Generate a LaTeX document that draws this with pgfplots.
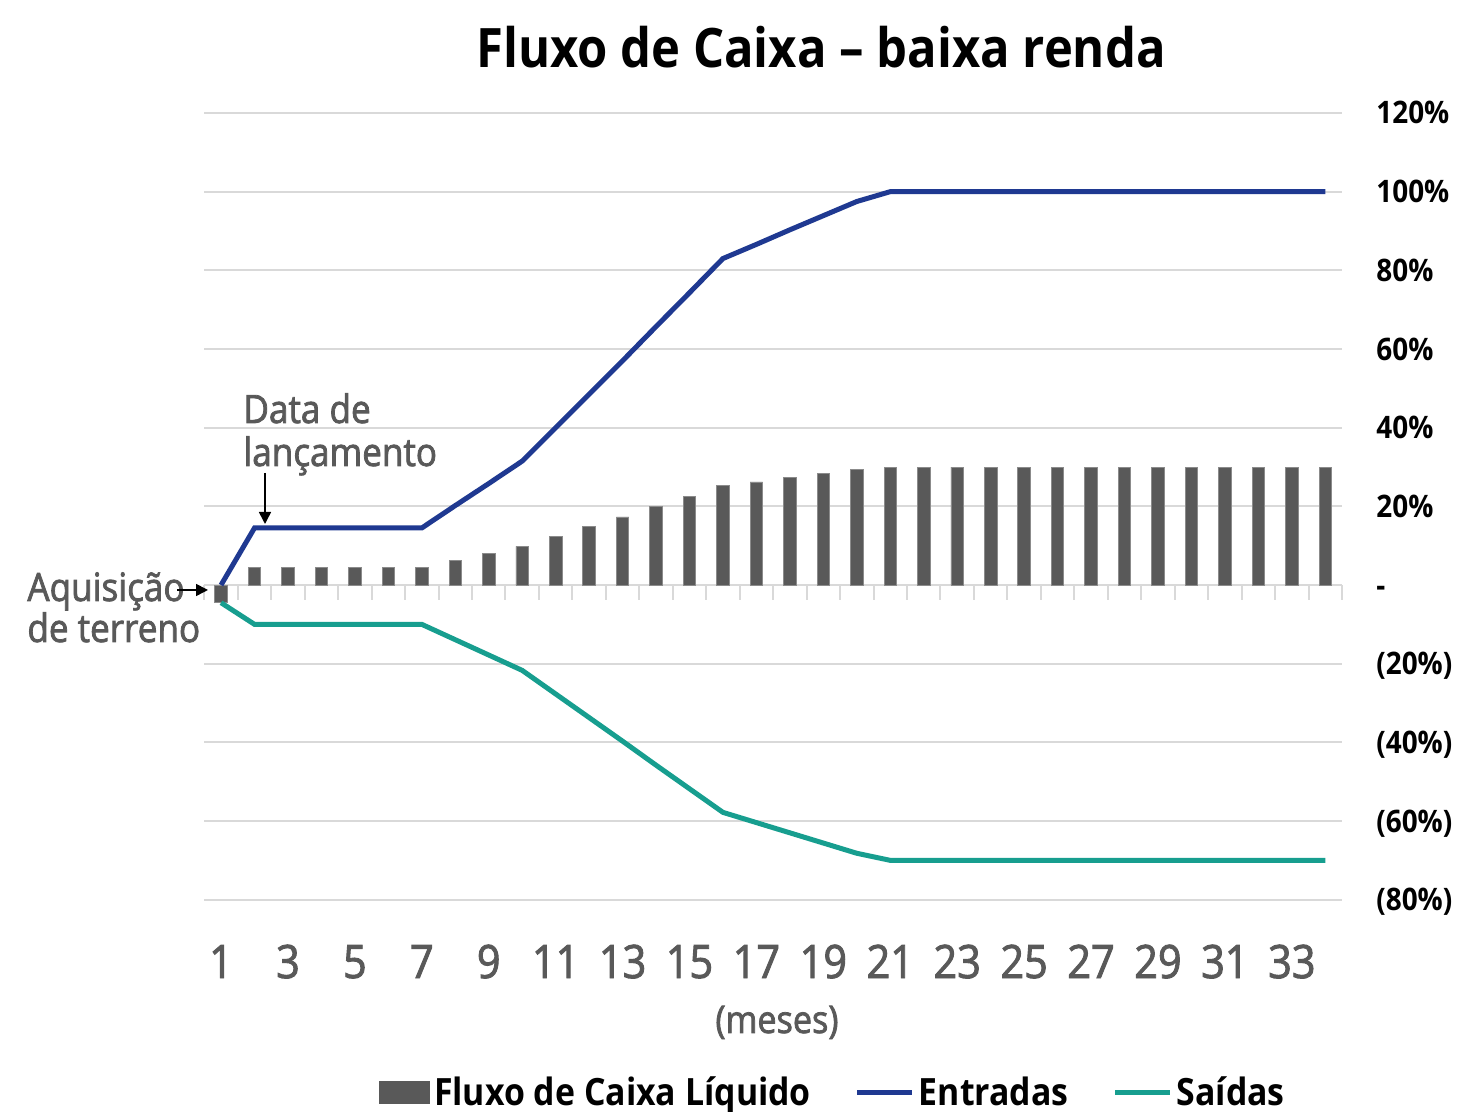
\documentclass[border=0pt]{standalone}
\usepackage{pgfplots}
\pgfplotsset{compat=1.18}
\usepackage{pgfplotstable}
\usepackage{fontspec}
\setmainfont{Open Sans}[FakeStretch=0.9]
\newfontfamily\semib{Open Sans}[FakeStretch=0.9, FakeBold=2]
\usetikzlibrary{arrows.meta}
\definecolor{barc}{HTML}{595959}
\definecolor{gridc}{HTML}{D9D9D9}
\definecolor{txtg}{HTML}{595959}
\definecolor{entc}{RGB}{31,57,145}
\definecolor{saic}{RGB}{23,158,143}

\pgfplotstableread{
m net ent sai
1 -4.5 0 -4.5
2 4.5 14.5 -10
3 4.5 14.5 -10
4 4.5 14.5 -10
5 4.5 14.5 -10
6 4.5 14.5 -10
7 4.5 14.5 -10
8 6.3 20.2 -13.9
9 8.0 25.8 -17.8
10 9.8 31.5 -21.7
11 12.3 40.0 -27.7
12 14.8 48.5 -33.7
13 17.3 57.0 -39.7
14 19.9 65.7 -45.8
15 22.5 74.3 -51.8
16 25.2 83.0 -57.8
17 26.2 86.6 -60.4
18 27.3 90.3 -63.0
19 28.3 93.9 -65.6
20 29.3 97.5 -68.2
21 30 100 -70
22 30 100 -70
23 30 100 -70
24 30 100 -70
25 30 100 -70
26 30 100 -70
27 30 100 -70
28 30 100 -70
29 30 100 -70
30 30 100 -70
31 30 100 -70
32 30 100 -70
33 30 100 -70
34 30 100 -70
}\datatable

\begin{document}
\begin{tikzpicture}
\useasboundingbox (0,0) rectangle (732.5pt,556pt);
\begin{axis}[
  at={(102.15pt,106.15pt)}, anchor=south west,
  width=568.85pt, height=393.35pt, scale only axis,
  xmin=0.5, xmax=34.5, ymin=-80, ymax=120,
  axis line style={draw=none},
  major tick length=0pt,
  xtick={1,3,...,33},
  xticklabels={1,3,5,7,9,11,13,15,17,19,21,23,25,27,29,31,33},
  xticklabel style={anchor=base, inner sep=0pt, yshift=-39.15pt, text=txtg, font=\fontsize{23pt}{26pt}\semib},
  ytick={-80,-60,...,120},
  yticklabels={(80\%),(60\%),(40\%),(20\%),-,20\%,40\%,60\%,80\%,100\%,120\%},
  yticklabel pos=right,
  yticklabel style={anchor=base west, inner sep=0pt, xshift=17pt, yshift=-5.5pt, text=black, font=\fontsize{15.5pt}{18pt}\selectfont\bfseries},
  ymajorgrids, grid style={gridc, line width=1pt},
  clip=false,
  legend columns=-1,
  legend style={at={(0.5535,-0.2455)}, anchor=center, draw=none, fill=none,
    font=\fontsize{18.8pt}{21pt}\selectfont\bfseries, inner sep=0pt,
    /tikz/every even column/.append style={column sep=20pt},
    nodes={inner xsep=2pt, inner ysep=0pt}},
]
\pgfplotsinvokeforeach{0.5,1.5,...,34.5}{
  \draw[gridc, line width=1pt] (axis cs:#1,0) -- ++(0pt,-7.5pt);
}
\addplot[ybar, bar width=6.25pt, fill=barc, draw=barc!70!white, line width=0.4pt,
  legend image code/.code={\fill[barc] (0pt,-5.5pt) rectangle (25pt,5.5pt);}]
  table[x=m, y=net] {\datatable};
\addlegendentry{Fluxo de Caixa Líquido}
\addplot[entc, line width=2.5pt, mark=none,
  legend image code/.code={\draw[entc, line width=2.5pt] (0pt,0pt) -- (27.5pt,0pt);}]
  table[x=m, y=ent] {\datatable};
\addlegendentry{Entradas}
\addplot[saic, line width=2.5pt, mark=none,
  legend image code/.code={\draw[saic, line width=2.5pt] (0pt,0pt) -- (27.5pt,0pt);}]
  table[x=m, y=sai] {\datatable};
\addlegendentry{Saídas}
\end{axis}
\node[anchor=base, inner sep=0pt, font=\fontsize{27.2pt}{30pt}\selectfont\bfseries] at (410.5pt,522pt) {Fluxo de Caixa – baixa renda};
\node[anchor=base, inner sep=0pt, text=txtg, font=\fontsize{19pt}{22pt}\semib] at (388.5pt,39.5pt) {(meses)};
\node[anchor=base west, inner sep=0pt, text=txtg, font=\fontsize{19.5pt}{22pt}\semib] at (121.5pt,344.5pt) {Data de};
\node[anchor=base west, inner sep=0pt, text=txtg, font=\fontsize{19.5pt}{22pt}\semib] at (121.5pt,323pt) {lançamento};
\node[anchor=base west, inner sep=0pt, text=txtg, font=\fontsize{19.5pt}{22pt}\semib] at (13.5pt,255.5pt) {Aquisição};
\node[anchor=base west, inner sep=0pt, text=txtg, font=\fontsize{19.5pt}{22pt}\semib] at (13.5pt,235pt) {de terreno};
\draw[black, line width=0.8pt, -{Triangle[length=6pt,width=6pt]}] (132.5pt,319.5pt) -- (132.5pt,294pt);
\draw[black, line width=0.8pt, -{Triangle[length=6pt,width=6pt]}] (88.5pt,261pt) -- (104pt,261pt);
\end{tikzpicture}
\end{document}
